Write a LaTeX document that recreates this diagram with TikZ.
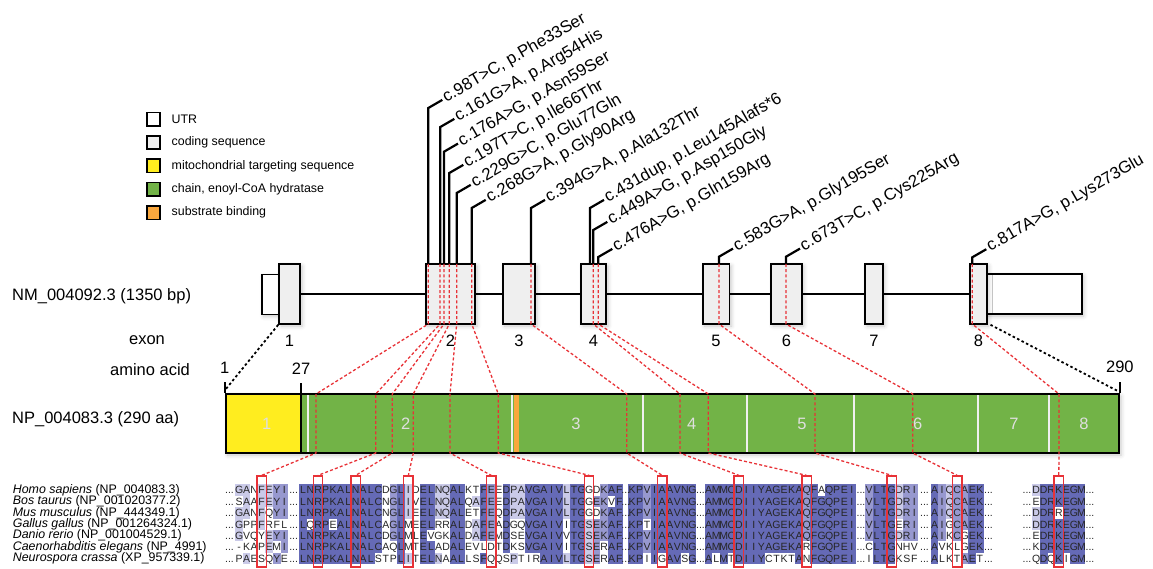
\documentclass[tikz,border=0pt]{standalone}
\usepackage{fontspec}
\setmainfont{Liberation Sans}
\usetikzlibrary{positioning, shadows.blur}

\definecolor{cdsfill}{RGB}{239,239,239}
\definecolor{mtsyellow}{RGB}{255,237,31}
\definecolor{chaingreen}{RGB}{114,179,71}
\definecolor{bindorange}{RGB}{249,167,62}
\definecolor{varred}{RGB}{232,50,55}
\definecolor{pidhigh}{RGB}{101,106,182}
\definecolor{pidmid}{RGB}{151,152,207}
\definecolor{pidlow}{RGB}{202,202,232}

\makeatletter
\newcommand\alnseg[4]{\def\aln@x{#1}\def\aln@y{#2}%
  \edef\aln@tmp{\noexpand\aln@loop#3\relax#4\relax}\aln@tmp}
\def\aln@loop#1#2\relax#3#4\relax{%
  \ifnum#3>0 \fill[pid#3] (\aln@x-3.77,\aln@y-5.7) rectangle ++(7.53,11.4);\fi
  \node[res] at (\aln@x,\aln@y+3.9) {#1};
  \pgfmathsetmacro\aln@x{\aln@x+7.53}%
  \ifx\relax#2\relax\else\aln@loop#2\relax#4\relax\fi}
\makeatother

\begin{document}
\begin{tikzpicture}[
  x=1pt, y=-1pt,
  node distance=10pt,
  lbl/.style={font=\fontsize{16.5}{19}\selectfont, inner sep=0pt},
  legbox/.style={draw, line width=1.6pt, minimum size=13.4pt, inner sep=0pt},
  legtext/.style={font=\fontsize{12.4}{14}\selectfont, inner sep=0pt, anchor=west},
  soft/.style={blur shadow={shadow xshift=2pt, shadow yshift=-2pt, shadow blur radius=4pt, shadow opacity=22}},
  cds/.style={draw, line width=1.6pt, fill=cdsfill, inner sep=0pt, minimum height=60pt, soft},
  utr/.style={draw, line width=1.6pt, fill=white, inner sep=0pt, minimum height=40pt, soft},
  intron/.style={line width=2pt},
  stem/.style={line width=2.2pt},
  varlabel/.style={font=\fontsize{16.8}{19}\selectfont, rotate=30, anchor=west, inner sep=2pt},
  mapline/.style={varred, line width=1.3pt, dash pattern=on 3pt off 2.2pt},
  dotline/.style={black, line width=1.8pt, dash pattern=on 2.5pt off 2.5pt},
  alnbox/.style={draw=varred, line width=1.3pt, inner sep=0pt, minimum width=9.4pt, minimum height=91pt},
  sep/.style={gray!12, line width=2pt},
  domnum/.style={lbl, text=gray!25},
  res/.style={font=\fontsize{10.5}{12}\selectfont, inner sep=0pt, anchor=base, text=black!85},
  species/.style={font=\fontsize{12.4}{14}\selectfont, inner sep=0pt, anchor=west},
  pid1/.style={fill=pidlow}, pid2/.style={fill=pidmid}, pid3/.style={fill=pidhigh}
]
\useasboundingbox (0,0) rectangle (1153,568);

% legend
\foreach \fc/\txt [count=\i] in {white/UTR, cdsfill/coding sequence, mtsyellow/mitochondrial targeting sequence, chaingreen/{chain, enoyl-CoA hydratase}, bindorange/substrate binding} {
  \node[legbox, fill=\fc] (leg\i) at (153.5,{119+(\i-1)*23.4}) {};
  \node[legtext, right=10.5pt of leg\i] (legt\i) {\txt};
}

% transcript
\node[lbl, anchor=west] (nm) at (12,296) {NM\_004092.3 (1350 bp)};
\node[utr, minimum width=17.3pt] (ex1u) at (270.35,294.5) {};
\node[cds, minimum width=21pt] (ex1) at (289.5,294) {};
\node[cds, minimum width=49.3pt] (ex2) at (450.35,294) {};
\node[cds, minimum width=32.3pt] (ex3) at (518.85,294) {};
\node[cds, minimum width=25pt] (ex4) at (593.5,294) {};
\node[cds, minimum width=26.6pt] (ex5) at (716,294) {};
\node[cds, minimum width=30.7pt] (ex6) at (786.35,294) {};
\node[cds, minimum width=17.7pt] (ex7) at (873.85,294) {};
\node[utr, minimum width=95pt] (ex8u) at (1034.2,294) {};
\node[cds, minimum width=16.7pt] (ex8) at (978.35,294) {};
\foreach \a/\b in {ex1/ex2, ex2/ex3, ex3/ex4, ex4/ex5, ex5/ex6, ex6/ex7, ex7/ex8}
  \draw[intron] (\a) -- (\b);
\foreach \i in {1,...,8}
  \node[lbl, below=10pt of ex\i] (exn\i) {\i};
\node[lbl] (exonlbl) at (147,340) {exon};
\node[lbl] (aalbl) at (150,370) {amino acid};

% variants
\foreach \vx/\vy/\vtxt [count=\i] in {428.3/108/{c.98T>C, p.Phe33Ser}, 440.3/127/{c.161G>A, p.Arg54His}, 444/151.7/{c.176A>G, p.Asn59Ser}, 449.3/173/{c.197T>C, p.Ile66Thr}, 456.7/193/{c.229G>C, p.Glu77Gln}, 471.7/208/{c.268G>A, p.Gly90Arg}, 531/208/{c.394G>A, p.Ala132Thr}, 590/208/{c.431dup, p.Leu145Alafs*6}, 593.3/230/{c.449A>G, p.Asp150Gly}, 598.3/257/{c.476A>G, p.Gln159Arg}, 719/256.7/{c.583G>A, p.Gly195Ser}, 786/256.7/{c.673T>C, p.Cys225Arg}, 972.3/257.3/{c.817A>G, p.Lys273Glu}} {
  \draw[stem] (\vx,264) -- (\vx,\vy) -- ++(14,-8.1) coordinate (vt\i);
  \node[varlabel] (var\i) at (vt\i) {\vtxt};
}

% protein
\node[lbl, anchor=west] (np) at (12,419) {NP\_004083.3 (290 aa)};
\node[draw=none, fill=white, minimum width=893.3pt, minimum height=59pt, inner sep=0pt, soft] (protshadow) at (672.35,423.5) {};
\fill[mtsyellow] (225.7,394) rectangle (301,453);
\fill[chaingreen] (301,394) rectangle (1119,453);
\fill[bindorange] (514,394) rectangle (519,453);
\foreach \sx in {308.3,511.7,643.3,747.3,854,978.3,1049.3}
  \draw[sep] (\sx,394) -- (\sx,453);
\node[draw, line width=1.8pt, minimum width=893.3pt, minimum height=59pt, inner sep=0pt] (prot) at (672.35,423.5) {};
\coordinate (mts) at (301,394);
\draw[line width=2.4pt] (mts) -- (mts |- prot.south);
\foreach \dx/\dn in {266.7/1, 405.7/2, 576/3, 691.7/4, 802/5, 917.7/6, 1014/7, 1084/8}
  \node[domnum] (dom\dn) at (\dx,423.5) {\dn};
\draw[line width=2pt] (prot.north west) -- ++(0,-11) node[lbl, above=8pt] (aa1) {1};
\draw[line width=2pt] (mts) -- ++(0,-11) node[lbl, above=8pt] (aa27) {27};
\draw[line width=2pt] (prot.north east) -- ++(0,-11) node[lbl, above=8pt] (aa290) {290};
\draw[dotline] (ex1.south west) -- ([xshift=1pt,yshift=4pt]prot.north west);
\draw[dotline] ([xshift=3pt]ex8.south east) -- ([xshift=-2pt,yshift=2pt]prot.north east);

% alignment
\foreach \sp/\acc [count=\i] in {Homo sapiens/NP\_004083.3, Bos taurus/NP\_001020377.2, Mus musculus/NP\_444349.1, Gallus gallus/NP\_001264324.1, Danio rerio/NP\_001004529.1, Caenorhabditis elegans/NP\_4991, Neurospora crassa/XP\_957339.1}
  \node[species] (sp\i) at (12.7,{490+(\i-1)*11.4}) {\textit{\sp} (\acc)};
\foreach \y/\s/\h in {490/GANFEYI/1101122, 501.4/SAAFEYI/0101122, 512.8/GANFQYI/1101022, 524.2/GPPFRFL/1001000, 535.6/GVQYEYI/1000122, 547/-KAPEMI/0000102, 558.4/PAESQYE/0100020}
  {\alnseg{239.1}{\y}{\s}{\h}}
\foreach \y/\s/\h in {490/LNRPKALNALCDGLIDELNQALKTFEEDPAVGAIVLTGGDKAF/3333333333302310331133003203113333313300233,
    501.4/LNRPKALNALCNGLIVELNQALQAFEEDPAVGAIVLTGGEKVF/3333333333302310331133013203113333313302203,
    512.8/LNRPKALNALCNGLIEELNQALETFEQDPAVGAIVLTGGDKAF/3333333333302310331133003203113333313300233,
    524.2/LQRPEALNALCAGLMEELRRALDAFEADGQVGAIVITGSEKAF/3033033333302300330033013203003333303312233,
    535.6/LNRPKALNALCDGLMLEVGKALDAFEMDSEVGAIVVTGSEKAF/3333333333302300300033013203003333303312233,
    547/LNRPKALNALCAQLMTELADALEVLDTDKSVGAIVITGSERAF/3333333333300300330033000003003333303312033,
    558.4/LNRPKALNALSTPLITELNAALLSFQQSPTIRAIVLTGSERAF/3333333333000310331033003000100033313312033}
  {\alnseg{303}{\y}{\s}{\h}}
\foreach \y/\s/\h in {490/KPVIAAVNG/332333333, 501.4/KPVIAAVNG/332333333, 512.8/KPVIAAVNG/332333333, 524.2/KPTIAAVNG/330333333, 535.6/KPVIAAVNG/332333333, 547/KPVIAAVNG/332333333, 558.4/KPIIGAVSG/330303303}
  {\alnseg{632.1}{\y}{\s}{\h}}
\foreach \y/\s/\h in {490/AMMCDIIYAGEKAQFAQPEI/33333333333332303333, 501.4/AMMCDIIYAGEKAQFGQPEI/33333333333332333333, 512.8/AMMCDIIYAGEKAQFGQPEI/33333333333332333333, 524.2/AMMCDIIYAGEKAQFGQPEI/33333333333332333333, 535.6/AMMCDIIYAGEKAQFGQPEI/33333333333332333333, 547/AMMCDIIYAGEKARFGQPEI/33333333333330333333, 558.4/ALMTDIIYCTKTANFGQPEI/30303333000030333333}
  {\alnseg{708.7}{\y}{\s}{\h}}
\foreach \y/\s/\h in {490/VLTGDRI/2333122, 501.4/VLTGDRI/2333122, 512.8/VLTGDRI/2333122, 524.2/VLTGERI/2333022, 535.6/VLTGDRI/2333122, 547/CLTGNHV/0333000, 558.4/ILTGKSF/0333000}
  {\alnseg{869.1}{\y}{\s}{\h}}
\foreach \y/\s/\h in {490/AIQCAEK/3212233, 501.4/AIQCAEK/3212233, 512.8/AIQCAEK/3212233, 524.2/AIGCAEK/3202233, 535.6/AIKCGEK/3202033, 547/AVKLGEK/3000033, 558.4/ALKTAET/3000230}
  {\alnseg{934.6}{\y}{\s}{\h}}
\foreach \y/\s/\h in {490/DDRKEGM/1333333, 501.4/EDRKEGM/0333333, 512.8/DDRREGM/1330333, 524.2/DDRKEGM/1333333, 535.6/EDRKEGM/0333333, 547/KDRKEGM/0333333, 558.4/QDQKIGM/0303033}
  {\alnseg{1036.2}{\y}{\s}{\h}}
\foreach \dx in {229.5,293.7,625.7,700.5,861,924.5,988.5,1027,1090}
  \foreach \r in {0,...,6}
    \node[res] at (\dx,{490+\r*11.4+3.9}) {...};

% variant positions from exon to protein to alignment
\foreach \nm/\ex/\px/\ax in {F33/428.3/316/261.69, R54/440/375.7/318.06, N59/444/392.3/355.71, I66/449.3/413.3/408.42, E77/456.7/450/491.25, G90/471.7/498.3/589.14, A132/531/626.7/662.22, D150/593.3/680/738.82, Q159/598.3/708.3/806.59, G195/719/815/891.69, C225/786/912.7/957.19, K273/972.3/1059/1058.79} {
  \coordinate (et\nm) at (\ex,264);
  \coordinate (eb\nm) at (\ex,324);
  \coordinate (pt\nm) at (\px,394);
  \coordinate (pb\nm) at (\px,453);
  \node[alnbox] (box\nm) at (\ax,521.5) {};
  \draw[mapline] (et\nm) -- (eb\nm) -- (pt\nm) -- (pb\nm) -- (box\nm.north);
}
\end{tikzpicture}
\end{document}
